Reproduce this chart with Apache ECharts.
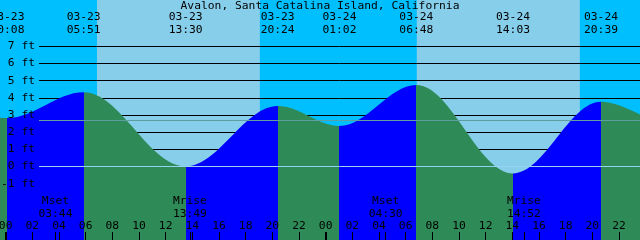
<!DOCTYPE html>
<html><head><meta charset="utf-8">
<script src="https://cdn.jsdelivr.net/npm/echarts@6/dist/echarts.min.js"></script>
<style>html,body{margin:0;padding:0;background:#fff}#c{width:640px;height:240px}</style>
</head><body><div id="c"></div>
<script>
// ---------- data ----------
const chartTitle = 'Avalon, Santa Catalina Island, California';
// tide extremes (first and last lie just outside the visible window)
const tideDates   = ['03-22','03-23','03-23','03-23','03-23','03-24','03-24','03-24','03-24','03-25'];
const tideTimes   = ['18:00','00:08','05:51','13:30','20:24','01:02','06:48','14:03','20:39','01:48'];
const tideHeights = [3.6, 2.82, 4.32, 0.0, 3.52, 2.36, 4.75, -0.40, 3.77, 2.0];
// daylight (sunrise, sunset)
const sunDates = ['03-23','03-23','03-24','03-24'];
const sunTimes = ['06:51','19:04','06:50','19:04'];
// moon events
const moonNames = ['Mset','Mrise','Mset','Mrise'];
const moonDates = ['03-23','03-23','03-24','03-24'];
const moonTimes = ['03:44','13:49','04:30','14:52'];
// axes
const hourTicks  = [0,2,4,6,8,10,12,14,16,18,20,22,24,26,28,30,32,34,36,38,40,42,44,46];
const hourLabels = ['00','02','04','06','08','10','12','14','16','18','20','22','00','02','04','06','08','10','12','14','16','18','20','22'];
const midnightTicks = [0, 24];
const heightTicks = [-1,0,1,2,3,4,5,6,7];
const meanLevel = 2.71;

// ---------- layout / style ----------
const xMin = -0.425, xMax = 47.575, yMin = -4.28, yMax = 9.70;
const lineStart = 2.5;
const FONT = 'DejaVu Sans Mono', FS = 11.3;
const NIGHT = '#00BFFF', DAY = '#87CEEB', FLOOD = '#0000FF', EBB = '#2E8B57';

function toHours(d, t) {
  const day = parseInt(d.slice(3), 10) - 23;
  const p = t.split(':').map(Number);
  return day * 24 + p[0] + p[1] / 60;
}
const tideHours = tideDates.map((d, i) => toHours(d, tideTimes[i]));
const tideData = tideHours.map((h, i) => [h, tideHeights[i]]);
const eventIdx = tideHours.map((h, i) => i).filter(i => tideHours[i] >= xMin && tideHours[i] <= xMax);
const eventHours = eventIdx.map(i => tideHours[i]);
const sunHours = sunDates.map((d, i) => toHours(d, sunTimes[i]));
const dayPairs = [];
for (let i = 0; i + 1 < sunHours.length; i += 2) dayPairs.push([{xAxis: sunHours[i]}, {xAxis: sunHours[i + 1]}]);
const moonHours = moonDates.map((d, i) => toHours(d, moonTimes[i]));

const pieces = [];
for (let i = 0; i + 1 < tideHours.length; i++) {
  pieces.push({gte: tideHours[i], lt: tideHours[i + 1], color: tideHeights[i + 1] > tideHeights[i] ? FLOOD : EBB});
}
function nearest(arr, v) { let b = 0; arr.forEach((a, i) => { if (Math.abs(a - v) < Math.abs(arr[b] - v)) b = i; }); return b; }

const txt = {color: '#000', fontFamily: FONT, fontSize: FS};
const baseX = {type: 'value', min: xMin, max: xMax, gridIndex: 0, axisLine: {show: false, onZero: false}, splitLine: {show: false}, z: 10};

const chart = echarts.init(document.getElementById('c'), null, {renderer: 'canvas'});
chart.setOption({
  animation: false,
  backgroundColor: NIGHT,
  title: {text: chartTitle, left: 'center', top: 0, padding: 0,
    textStyle: Object.assign({fontWeight: 'normal', lineHeight: 12}, txt)},
  grid: {left: 0, right: 0, top: 0, bottom: 0, containLabel: false, outerBoundsMode: 'none'},
  xAxis: [
    Object.assign({}, baseX, {position: 'bottom',
      axisTick: {show: true, inside: true, length: 8, customValues: hourTicks, lineStyle: {color: '#000', width: 1}},
      axisLabel: Object.assign({inside: true, margin: 8, customValues: hourTicks, lineHeight: 12,
        formatter: v => hourLabels[nearest(hourTicks, v)]}, txt)}),
    Object.assign({}, baseX, {position: 'top',
      axisTick: {show: false},
      axisLabel: Object.assign({inside: true, margin: 11, customValues: eventHours, lineHeight: 12.5,
        formatter: v => { const i = eventIdx[nearest(eventHours, v)]; return tideDates[i] + '\n' + tideTimes[i]; }}, txt)}),
    Object.assign({}, baseX, {position: 'bottom',
      axisTick: {show: true, inside: true, length: 8, customValues: moonHours, lineStyle: {color: '#000', width: 1}},
      axisLabel: Object.assign({inside: true, margin: 20, customValues: moonHours, lineHeight: 12.5,
        formatter: v => { const i = nearest(moonHours, v); return moonNames[i] + '\n' + moonTimes[i]; }}, txt)}),
    Object.assign({}, baseX, {position: 'bottom',
      axisTick: {show: true, inside: true, length: 8, customValues: midnightTicks, lineStyle: {color: '#000', width: 2}},
      axisLabel: {show: false}})
  ],
  yAxis: {type: 'value', min: yMin, max: yMax, position: 'left', z: 10,
    axisLine: {show: false, onZero: false}, axisTick: {show: false}, splitLine: {show: false},
    axisLabel: Object.assign({inside: true, align: 'right', margin: 35, customValues: heightTicks,
      formatter: v => v + ' ft'}, txt)},
  visualMap: {type: 'piecewise', show: false, dimension: 0, seriesIndex: 2, pieces: pieces, outOfRange: {color: EBB}},
  series: [
    {name: 'sky', type: 'line', data: [], z: 1, silent: true,
      markArea: {silent: true, z: 1, itemStyle: {color: DAY, opacity: 1, borderWidth: 0}, data: dayPairs}},
    {name: 'grid', type: 'line', data: [], z: 2, silent: true,
      markLine: {silent: true, z: 2, symbol: 'none', label: {show: false},
        lineStyle: {color: '#000', width: 1, type: 'solid', opacity: 1},
        data: heightTicks.map(v => [{coord: [lineStart, v]}, {coord: [xMax, v]}])}},
    {name: 'tide', type: 'line', data: tideData, z: 3, silent: true,
      smooth: 0.36, smoothMonotone: 'x', symbol: 'none',
      lineStyle: {width: 0, opacity: 0}, areaStyle: {origin: 'start', opacity: 1}},
    {name: 'levels', type: 'line', data: [], z: 4, silent: true,
      markLine: {silent: true, z: 4, symbol: 'none', label: {show: false},
        data: [
          [{coord: [lineStart, meanLevel], lineStyle: {color: '#5F9EA0', width: 1, type: 'solid', opacity: 1}}, {coord: [xMax, meanLevel]}],
          [{coord: [lineStart, 0], lineStyle: {color: '#94D4F0', width: 1, type: 'solid', opacity: 1}}, {coord: [xMax, 0]}]
        ]}}
  ]
});
</script></body></html>
